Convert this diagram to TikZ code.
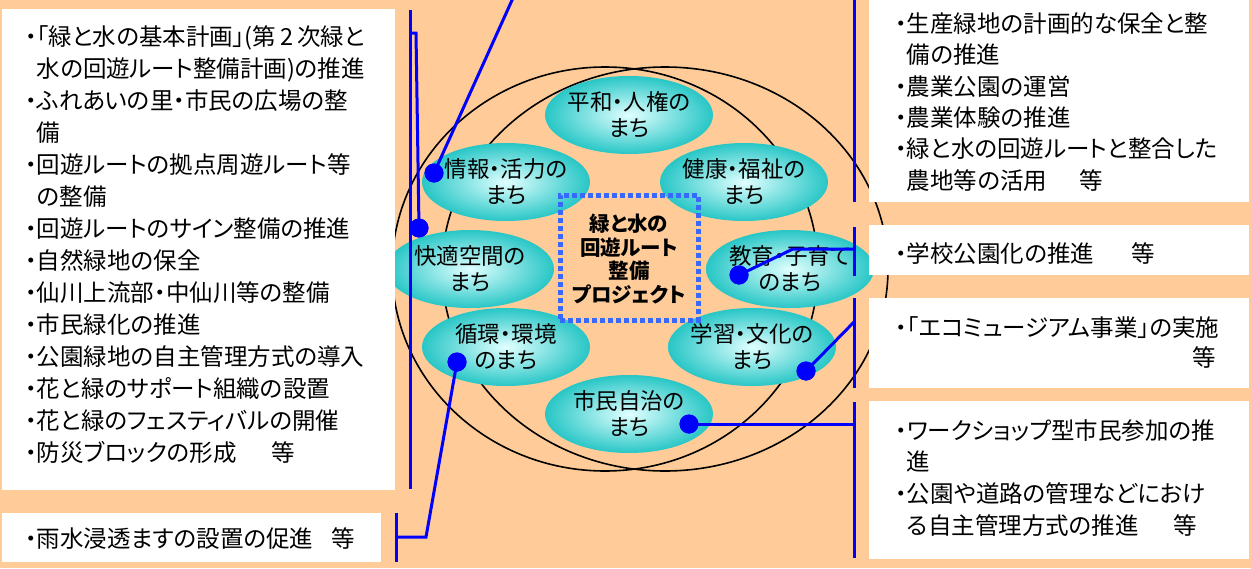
\documentclass[tikz,border=0pt]{standalone}
\usepackage{fontspec}
\newfontfamily\jp[RawFeature=+palt]{Noto Sans CJK JP}
\usetikzlibrary{shapes.geometric}
\definecolor{bgpeach}{RGB}{255,204,153}
\definecolor{tealout}{RGB}{40,198,198}
\definecolor{tealin}{RGB}{225,255,255}
\definecolor{dashblue}{RGB}{55,105,255}
\definecolor{lineblue}{RGB}{0,0,255}
\begin{document}
\begin{tikzpicture}[x=1pt,y=-1pt,
  ring/.style={ellipse,draw=black,line width=1.6pt,minimum width=426pt,minimum height=404pt,inner sep=0pt},
  machi/.style={ellipse,minimum width=168pt,minimum height=78pt,inner sep=0pt,draw=none,inner color=tealin,outer color=tealout},
  mtext/.style={align=center,inner sep=0pt,font={\jp\fontsize{22.5}{26}\selectfont}},
  ptext/.style={align=center,inner sep=0pt,font={\jp\bfseries\fontsize{20.5}{23.5}\selectfont}},
  projbox/.style={draw=dashblue,line width=5pt,dash pattern=on 5pt off 3pt,minimum width=138pt,minimum height=125pt,inner sep=0pt},
  wbox/.style={fill=white,inner sep=0pt,outer sep=0pt,anchor=north west},
  btext/.style={align=left,anchor=north west,inner sep=0pt,font={\jp\fontsize{23.5}{#1}\selectfont}},
  btext/.default=32,
  conn/.style={draw=lineblue,line width=3pt},
  bdot/.style={circle,fill=lineblue,minimum size=19pt,inner sep=0pt}
]
\useasboundingbox (0,0) rectangle (1251,568);
\fill[bgpeach] (0,0) rectangle (1251,568);

% two large rings
\node[ring] (ringL) at (605,269) {};
\node[ring,minimum width=446pt] (ringR) at (665,269) {};

% machi ellipses
\node[machi] (m1) at (629,115) {};
\node[machi] (m2) at (506,182) {};
\node[machi] (m3) at (744,182) {};
\node[machi] (m4) at (470,269) {};
\node[machi] (m5) at (790,269) {};
\node[machi] (m6) at (506,347) {};
\node[machi] (m7) at (752,347) {};
\node[machi] (m8) at (629,414) {};

\node[mtext] (t1) at (m1) {平和・人権の\\まち};
\node[mtext] (t2) at (m2) {情報・活力の\\まち};
\node[mtext] (t3) at (m3) {健康・福祉の\\まち};
\node[mtext] (t4) at (m4) {快適空間の\\まち};
\node[mtext] (t5) at (m5) {教育・子育て\\のまち};
\node[mtext] (t6) at (m6) {循環・環境\\のまち};
\node[mtext] (t7) at (m7) {学習・文化の\\まち};
\node[mtext] (t8) at (m8) {市民自治の\\まち};

% project box
\node[projbox] (proj) at (629,257.5) {};
\node[ptext] (projt) at (629,259) {緑と水の\\回遊ルート\\整備\\プロジェクト};

% white boxes
\node[wbox,minimum width=393pt,minimum height=481pt] (bL1) at (2,9) {};
\node[wbox,minimum width=379pt,minimum height=49pt] (bL2) at (2,513) {};
\node[wbox,minimum width=380pt,minimum height=207pt] (bR1) at (869,-5) {};
\node[wbox,minimum width=380pt,minimum height=50pt] (bR2) at (869,225) {};
\node[wbox,minimum width=380pt,minimum height=90pt] (bR3) at (869,298) {};
\node[wbox,minimum width=380pt,minimum height=158pt] (bR4) at (869,401) {};

% box texts
\node[btext] (xL1) at (25,21) {\rule{0pt}{24pt}・「緑と水の基本計画」(第\,2\,次緑と\\
\phantom{・}水の回遊ルート整備計画)の推進\\
・ふれあいの里・市民の広場の整\\
\phantom{・}備\\
・回遊ルートの拠点周遊ルート等\\
\phantom{・}の整備\\
・回遊ルートのサイン整備の推進\\
・自然緑地の保全\\
・仙川上流部・中仙川等の整備\\
・市民緑化の推進\\
・公園緑地の自主管理方式の導入\\
・花と緑のサポート組織の設置\\
・花と緑のフェスティバルの開催\\
・防災ブロックの形成\hspace{1.5em}等};
\node[btext] (xL2) at (25,523) {\rule{0pt}{24pt}・雨水浸透ますの設置の促進\hspace{0.8em}等};
\node[btext=31.4] (xR1) at (895,8) {\rule{0pt}{24pt}・生産緑地の計画的な保全と整\\
\phantom{・}備の推進\\
・農業公園の運営\\
・農業体験の推進\\
・緑と水の回遊ルートと整合した\\
\phantom{・}農地等の活用\hspace{1.4em}等};
\node[btext] (xR2) at (895,238) {\rule{0pt}{24pt}・学校公園化の推進\hspace{1.6em}等};
\node[btext] (xR3) at (895,312) {\rule{0pt}{24pt}・「エコミュージアム事業」の実施};
\node[anchor=base east,inner sep=0pt,font={\jp\fontsize{23.5}{32}\selectfont}] (xR3b) at (1216,366) {等};
\node[btext=31.7] (xR4) at (895,415) {\rule{0pt}{24pt}・ワークショップ型市民参加の推\\
\phantom{・}進\\
・公園や道路の管理などにおけ\\
\phantom{・}る自主管理方式の推進\hspace{1.5em}等};

% dots
\node[bdot] (d1) at (434,173) {};
\node[bdot] (d2) at (419,228) {};
\node[bdot] (d3) at (739,275) {};
\node[bdot] (d4) at (457,362) {};
\node[bdot] (d5) at (806,371) {};
\node[bdot] (d6) at (689,424) {};

% coordinates for connector ends
\coordinate (top1) at (513,-2);
\coordinate (lA) at (410,10);
\coordinate (lB) at (410,489);
\coordinate (lk1) at (410,33);
\coordinate (lk2) at (416,33);
\coordinate (lC) at (396,513);
\coordinate (lD) at (396,562);
\coordinate (lE) at (426,537);
\coordinate (lF) at (396,537);
\coordinate (r1a) at (854,-2);
\coordinate (r1b) at (854,202);
\coordinate (r2a) at (854,227);
\coordinate (r2b) at (854,276);
\coordinate (r2k) at (793,249);
\coordinate (r2m) at (854,249);
\coordinate (r3a) at (854,298);
\coordinate (r3b) at (854,388);
\coordinate (r3m) at (854,322);
\coordinate (r4a) at (854,402);
\coordinate (r4b) at (854,558);
\coordinate (r4m) at (854,424);

% connectors
\draw[conn] (d1.center) -- (top1);
\draw[conn] (lA) -- (lB);
\draw[conn] (lk1) -- (lk2) -- (d2.center);
\draw[conn] (lC) -- (lD);
\draw[conn] (d4.center) -- (lE) -- (lF);
\draw[conn] (r1a) -- (r1b);
\draw[conn] (r2a) -- (r2b);
\draw[conn] (d3.center) -- (r2k) -- (r2m);
\draw[conn] (r3a) -- (r3b);
\draw[conn] (d5.center) -- (r3m);
\draw[conn] (r4a) -- (r4b);
\draw[conn] (d6.center) -- (r4m);

% redraw dots on top
\node[bdot] (d1b) at (d1) {};
\node[bdot] (d2b) at (d2) {};
\node[bdot] (d3b) at (d3) {};
\node[bdot] (d4b) at (d4) {};
\node[bdot] (d5b) at (d5) {};
\node[bdot] (d6b) at (d6) {};
\end{tikzpicture}
\end{document}
